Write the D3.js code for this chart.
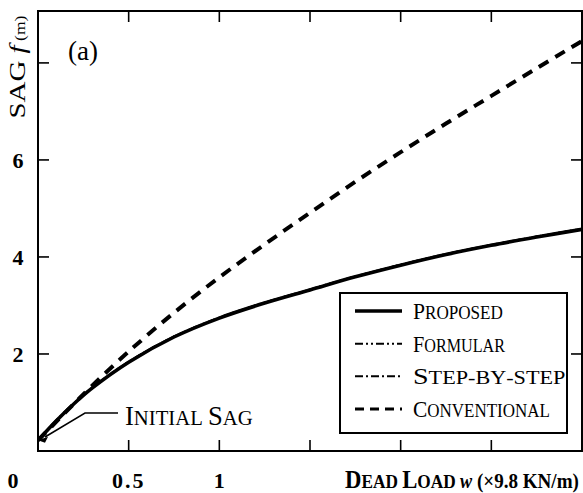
<!DOCTYPE html>
<html>
<head>
    <title>Sag vs dead load</title>
    <style>
      body { margin: 0; background: #fff; }
      text { font-family: "Liberation Serif", "DejaVu Serif", serif; fill: #000; }
    </style>
</head>
<body>
    <script src="https://d3js.org/d3.v7.min.js"></script>
    <script>
        // dead load w (x9.8 kN/m) sampled along the curves
        var loads = [0, 0.1, 0.2, 0.3, 0.5, 0.75, 1.0, 1.25, 1.5, 1.75, 2.0, 2.25, 2.5, 2.75, 3.0];

        // sag f (m)
        var proposed     = [0.22, 0.62, 0.98, 1.30, 1.83, 2.35, 2.74, 3.05, 3.32, 3.59, 3.83, 4.05, 4.24, 4.41, 4.57];
        var formular     = [0.22, 0.63, 0.99, 1.31, 1.84, 2.36, 2.75, 3.06, 3.33, 3.60, 3.84, 4.06, 4.25, 4.42, 4.58];
        var stepByStep   = [0.22, 0.62, 0.98, 1.30, 1.84, 2.36, 2.75, 3.06, 3.33, 3.60, 3.84, 4.06, 4.25, 4.42, 4.58];
        var conventional = [0.22, 0.60, 0.98, 1.35, 2.05, 2.85, 3.58, 4.26, 4.91, 5.55, 6.16, 6.75, 7.32, 7.89, 8.45];

        var xTicks = [0.5, 1, 1.5, 2, 2.5];
        var xTickLabels = ["0.5", "1"];
        var yTicks = [2, 4, 6, 8];
        var yTickLabels = ["2", "4", "6"];

        var legendNames = ["Proposed", "Formular", "Step-by-step", "Conventional"];

        (function() {
        /*********************************
         * Scales
         *********************************/
        var W = 583, H = 493;
        var mLeft = 38, mRight = 582, mTop = 11, mBottom = 451;

        var x = d3.scaleLinear().domain([0, 3]).range([mLeft, mRight]);
        var y = d3.scaleLinear().domain([0, 9.07]).range([mBottom, mTop]);

        var svg = d3.select("body").append("svg")
            .attr("width", W)
            .attr("height", H);

        // small caps helper: upper case letters big, lower case letters shrunk
        function smallCaps(t, str, big, small) {
            str.split("").forEach(function(ch) {
                var isUp = ch === ch.toUpperCase() && ch !== ch.toLowerCase();
                t.append("tspan")
                    .attr("font-size", isUp ? big : small)
                    .text(ch.toUpperCase());
            });
        }

        // squeeze a text sideways so it spans the width seen in the scan
        function fitWidth(t, width, pre) {
            var w = t.node().getComputedTextLength();
            t.attr("transform", pre + " scale(" + (width / w) + ",1)");
        }

        /*********************************
         * Curves
         *********************************/
        svg.append("clipPath").attr("id", "plot")
            .append("rect")
            .attr("x", mLeft).attr("y", mTop)
            .attr("width", mRight - mLeft).attr("height", mBottom - mTop);

        var line = d3.line()
            .x(function(d) { return x(d[0]); })
            .y(function(d) { return y(d[1]); })
            .curve(d3.curveCatmullRom.alpha(0.5));

        var series = [
            { name: "Proposed", vals: proposed, width: 3.6, dash: null },
            { name: "Formular", vals: formular, width: 2, dash: "8,3,2,3,2,3" },
            { name: "Step-by-step", vals: stepByStep, width: 2, dash: "8,3,2,3" },
            { name: "Conventional", vals: conventional, width: 4, dash: "11,8" }
        ];

        var plot = svg.append("g").attr("clip-path", "url(#plot)");
        series.forEach(function(s) {
            plot.append("path")
                .datum(loads.map(function(l, i) { return [l, s.vals[i]]; }))
                .attr("d", line)
                .attr("fill", "none")
                .attr("stroke", "#000")
                .attr("stroke-width", s.width)
                .attr("stroke-dasharray", s.dash);
        });

        /*********************************
         * Frame and ticks
         *********************************/
        svg.append("rect")
            .attr("x", mLeft).attr("y", mTop)
            .attr("width", mRight - mLeft).attr("height", mBottom - mTop)
            .attr("fill", "none")
            .attr("stroke", "#000")
            .attr("stroke-width", 2);

        var tickLen = 11;
        xTicks.forEach(function(t) {
            svg.append("line").attr("x1", x(t)).attr("x2", x(t))
                .attr("y1", mBottom).attr("y2", mBottom - tickLen)
                .attr("stroke", "#000").attr("stroke-width", 1.6);
            svg.append("line").attr("x1", x(t)).attr("x2", x(t))
                .attr("y1", mTop).attr("y2", mTop + tickLen)
                .attr("stroke", "#000").attr("stroke-width", 1.6);
        });
        yTicks.forEach(function(t) {
            svg.append("line").attr("x1", mLeft).attr("x2", mLeft + tickLen)
                .attr("y1", y(t)).attr("y2", y(t))
                .attr("stroke", "#000").attr("stroke-width", 1.6);
            svg.append("line").attr("x1", mRight).attr("x2", mRight - tickLen)
                .attr("y1", y(t)).attr("y2", y(t))
                .attr("stroke", "#000").attr("stroke-width", 1.6);
        });

        // tick labels
        svg.append("text").attr("x", 13).attr("y", 488)
            .attr("text-anchor", "middle")
            .attr("font-size", 22).attr("font-weight", "bold")
            .text("0");
        xTickLabels.forEach(function(lbl) {
            svg.append("text").attr("x", x(+lbl)).attr("y", 488)
                .attr("text-anchor", "middle")
                .attr("font-size", 22).attr("font-weight", "bold")
                .attr("letter-spacing", lbl.length > 1 ? 2 : 0)
                .text(lbl);
        });
        yTickLabels.forEach(function(lbl) {
            svg.append("text").attr("x", 18).attr("y", y(+lbl) + 8)
                .attr("text-anchor", "middle")
                .attr("font-size", 22).attr("font-weight", "bold")
                .text(lbl);
        });

        /*********************************
         * Axis titles and annotations
         *********************************/
        var yTitle = svg.append("text")
            .attr("text-anchor", "middle");
        yTitle.append("tspan").attr("font-size", 23).text("SAG ");
        yTitle.append("tspan").attr("font-size", 23).attr("font-style", "italic").text("f");
        yTitle.append("tspan").attr("font-size", 14).text(" (m)");
        fitWidth(yTitle, 103, "translate(25,67) rotate(-90)");

        var xTitle = svg.append("text")
            .attr("font-weight", "bold");
        smallCaps(xTitle, "Dead Load ", 25, 19);
        xTitle.append("tspan").attr("font-size", 20).attr("font-style", "italic").text("w");
        xTitle.append("tspan").attr("font-size", 21).text("  (\u00d79.8 KN/m)");
        fitWidth(xTitle, 234, "translate(345,488)");

        svg.append("text").attr("x", 68).attr("y", 60)
            .attr("font-size", 27)
            .text("(a)");

        // initial sag leader
        svg.append("polyline")
            .attr("points", [[118, 413], [85, 413], [45, 437]].join(" "))
            .attr("fill", "none")
            .attr("stroke", "#000")
            .attr("stroke-width", 1.5);
        svg.append("path")
            .attr("d", "M" + x(0) + "," + y(0.22) + " l10,-3.5 l-3,6 z")
            .attr("fill", "#000");
        var initial = svg.append("text");
        smallCaps(initial, "Initial Sag", 27, 21);
        fitWidth(initial, 127, "translate(125,425)");

        /*********************************
         * Legend
         *********************************/
        var legend = svg.append("g");
        legend.append("rect")
            .attr("x", 340).attr("y", 293)
            .attr("width", 227).attr("height", 140)
            .attr("fill", "#fff")
            .attr("stroke", "#000")
            .attr("stroke-width", 2);

        var legendY = d3.scalePoint().domain(legendNames).range([311, 409]);
        var legendLen = { "Proposed": 90, "Formular": 92, "Step-by-step": 150, "Conventional": 137 };

        series.forEach(function(s) {
            var cy = legendY(s.name);
            legend.append("line")
                .attr("x1", 355).attr("x2", 402)
                .attr("y1", cy).attr("y2", cy)
                .attr("stroke", "#000")
                .attr("stroke-width", s.name === "Conventional" ? 3 : s.width)
                .attr("stroke-dasharray", s.dash === "11,8" ? "9,6" : s.dash);
            var t = legend.append("text");
            smallCaps(t, s.name, 24, 19);
            fitWidth(t, legendLen[s.name], "translate(413," + (cy + 8) + ")");
        });
        })();
    </script>
</body>
</html>
